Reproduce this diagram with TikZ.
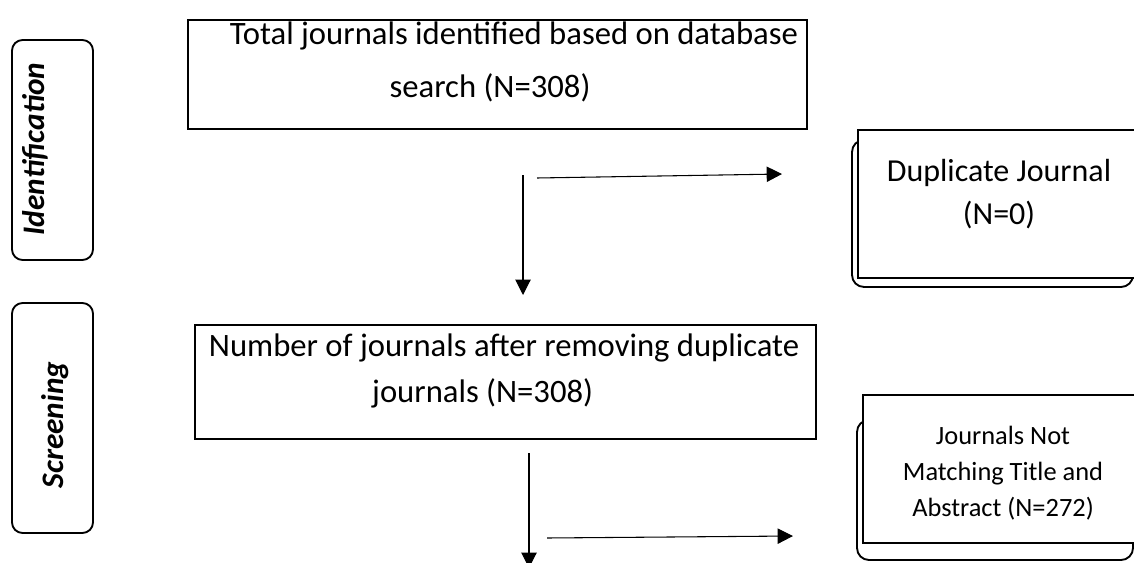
\documentclass[tikz,border=0pt]{standalone}
\usepackage{fontspec}
\setmainfont{Carlito}
\usetikzlibrary{positioning,arrows.meta}

\begin{document}
\begin{tikzpicture}[x=0.75pt, y=-0.75pt, >={Triangle[length=11.5pt,width=11.5pt]},
    mainbox/.style={draw, line width=1.4pt, inner sep=0pt, outer sep=0pt},
    stagebox/.style={draw, line width=1.4pt, rounded corners=8pt, inner sep=0pt,
        minimum width=60.75pt},
    backbox/.style={draw, line width=1.4pt, rounded corners=9pt, inner sep=0pt},
    frontbox/.style={draw, fill=white, line width=1.4pt, inner sep=0pt},
    stagetext/.style={rotate=90, font=\fontsize{23.5}{28}\selectfont\bfseries\itshape},
    bigtext/.style={align=center, inner sep=0pt},
    smalltext/.style={align=center, inner sep=0pt, font=\fontsize{19.8}{27}\selectfont},
    flow/.style={->, line width=0.8pt}]
    \useasboundingbox (0,0) rectangle (1134,563);

    % stage labels
    \node[stagebox, minimum height=165pt] (ident) at (52.5,150) {};
    \node[stagetext] (identtxt) at (35.5,149) {Identification};
    \node[stagebox, minimum height=172.5pt] (screen) at (52.5,418) {};
    \node[stagetext] (screentxt) at (55,425) {Screening};

    % main boxes
    \node[mainbox, minimum width=464.25pt, minimum height=81.75pt] (total) at (497.5,74.5) {};
    \node[bigtext, font=\fontsize{24.5}{40}\selectfont] (totaltxt) at (490,62)
        {\hspace*{36pt}Total journals identified based on database\\search (N=308)};
    \node[mainbox, minimum width=465.75pt, minimum height=85.5pt] (after) at (505.5,382) {};
    \node[bigtext, font=\fontsize{24.5}{34}\selectfont] (aftertxt) at (504,371)
        {Number of journals after removing duplicate\\journals (N=308)\hspace*{32pt}};

    % excluded boxes
    \node[backbox, minimum width=210.75pt, minimum height=110.25pt] (dupback) at (992.5,213.5) {};
    \node[frontbox, minimum width=219pt, minimum height=111pt] (dup) at (1004,204) {};
    \node[bigtext, font=\fontsize{24}{32}\selectfont] (duptxt) at (999,194)
        {Duplicate Journal\\(N=0)};
    \node[backbox, minimum width=207pt, minimum height=105pt] (notback) at (995,490) {};
    \node[frontbox, minimum width=215.25pt, minimum height=111pt] (notmatch) at (1006.5,469) {};
    \node[smalltext] (notmatchtxt) at (1003,473)
        {Journals Not\\Matching Title and\\Abstract (N=272)};

    % arrows
    \coordinate (d1s) at (523,175);
    \coordinate (d1e) at (523,295);
    \coordinate (r1s) at (537,178);
    \coordinate (r1e) at (782,174);
    \coordinate (d2s) at (529,453);
    \coordinate (d2e) at (529,568);
    \coordinate (r2s) at (547,538);
    \coordinate (r2e) at (793,536);
    \draw[flow] (d1s) -- (d1e);
    \draw[flow] (r1s) -- (r1e);
    \draw[flow] (d2s) -- (d2e);
    \draw[flow] (r2s) -- (r2e);
\end{tikzpicture}
\end{document}
